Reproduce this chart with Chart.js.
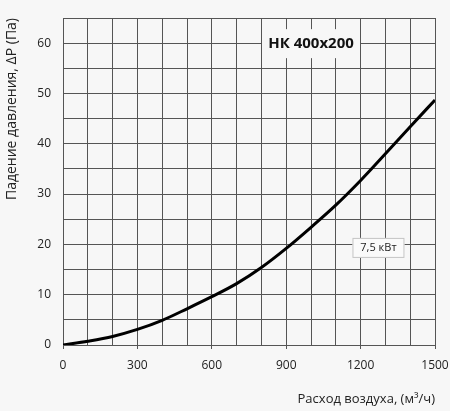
<!DOCTYPE html>
<html>
<head>
<meta charset="utf-8">
<script src="https://cdn.jsdelivr.net/npm/chart.js@4/dist/chart.umd.min.js"></script>
<style>
  html, body { margin: 0; padding: 0; background: #f7f7f7; }
  #wrap { width: 450px; height: 411px; }
</style>
</head>
<body>
<div id="wrap"><canvas id="chart"></canvas></div>
<script>
// airflow, m3/h
let flow = [0, 100, 200, 300, 400, 500, 600, 700, 800, 900, 1000, 1100, 1200, 1300, 1400, 1500];
// pressure drop, Pa
let pressure = [0, 0.75, 1.7, 3.1, 4.9, 7.2, 9.6, 12.2, 15.4, 19.2, 23.4, 27.8, 32.7, 38.0, 43.4, 48.7];

let titleLabel = "НК 400x200";
let powerLabel = "7,5 кВт";

let points = flow.map((x, i) => ({ x: x, y: pressure[i] }));

const labelsPlugin = {
    id: "boxLabels",
    afterDatasetsDraw(chart) {
        let ctx = chart.ctx;
        let xs = chart.scales.x, ys = chart.scales.y;
        ctx.save();

        // model title box, sits over the grid
        let cx = xs.getPixelForValue(1000), cy = ys.getPixelForValue(60);
        ctx.fillStyle = "#f7f7f7";
        ctx.fillRect(cx - 49, cy - 14, 98, 29);
        ctx.fillStyle = "#111";
        ctx.font = "bold 15px 'Open Sans'";
        ctx.textAlign = "center";
        ctx.textBaseline = "middle";
        ctx.fillText(titleLabel, cx, cy + 1);

        // power box
        let px = xs.getPixelForValue(1272), py = ys.getPixelForValue(19.3);
        ctx.fillStyle = "#fafafa";
        ctx.fillRect(px - 26, py - 10, 52, 20);
        ctx.strokeStyle = "#c4c4c4";
        ctx.lineWidth = 1;
        ctx.strokeRect(px - 25.5, py - 9.5, 51, 19);
        ctx.fillStyle = "#222";
        ctx.font = "11px 'Open Sans'";
        ctx.fillText(powerLabel, px, py);

        ctx.restore();
    }
};

let ctx = document.getElementById("chart").getContext("2d");

new Chart(ctx, {
    type: "line",
    data: {
        datasets: [{
            data: points,
            borderColor: "#000",
            borderWidth: 3,
            pointRadius: 0,
            cubicInterpolationMode: "monotone",
            fill: false
        }]
    },
    options: {
        responsive: true,
        maintainAspectRatio: false,
        animation: false,
        layout: { padding: { top: 18, right: 15, left: 0, bottom: 0 } },
        plugins: {
            legend: { display: false },
            tooltip: { enabled: false }
        },
        scales: {
            x: {
                type: "linear",
                min: 0,
                max: 1500,
                border: { display: false },
                grid: {
                    color: "#555",
                    lineWidth: 1,
                    tickLength: 4,
                    tickColor: (c) => (c.tick && c.tick.value % 300 === 0) ? "#555" : "rgba(0,0,0,0)"
                },
                ticks: {
                    stepSize: 100,
                    autoSkip: false,
                    maxRotation: 0,
                    padding: 9,
                    color: "#222",
                    font: { family: "Open Sans", size: 12 },
                    callback: (v) => v % 300 === 0 ? v : ""
                },
                title: {
                    display: true,
                    text: "Расход воздуха, (м³/ч)",
                    align: "end",
                    color: "#222",
                    font: { family: "Open Sans", size: 13 },
                    padding: { top: 11 }
                },
                afterFit: (s) => { s.height = 66; s.paddingRight = 0; s.paddingLeft = 0; }
            },
            y: {
                min: 0,
                max: 65,
                border: { display: false },
                grid: { color: "#555", lineWidth: 1, drawTicks: false },
                ticks: {
                    stepSize: 5,
                    autoSkip: false,
                    padding: 12,
                    color: "#222",
                    font: { family: "Open Sans", size: 12 },
                    callback: (v) => v % 10 === 0 ? v : ""
                },
                title: {
                    display: true,
                    text: "Падение давления, ΔP (Па)",
                    align: "end",
                    color: "#222",
                    font: { family: "Open Sans", size: 14 },
                    padding: { bottom: 4 }
                },
                afterFit: (s) => { s.width = 63; s.paddingTop = 0; s.paddingBottom = 0; }
            }
        }
    },
    plugins: [labelsPlugin]
});
</script>
</body>
</html>
